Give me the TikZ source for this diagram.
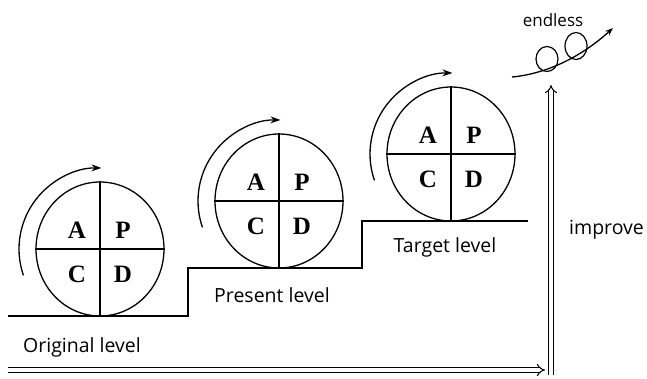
\documentclass[tikz,border=0pt]{standalone}
\usepackage{fontspec}
\setmainfont{Liberation Serif}
\newfontfamily\labelfont{Open Sans}
\usetikzlibrary{arrows.meta,shapes.geometric,calc}

\tikzset{
  pdca/.style={draw, ellipse, line width=1.3pt, minimum width=128pt, minimum height=134pt, inner sep=0pt},
  quad/.style={font=\bfseries\fontsize{25}{25}\selectfont, inner sep=0pt},
  cross/.style={line width=1.3pt},
  stair/.style={line width=1.8pt},
  turn/.style={line width=1.3pt, -{Stealth[length=10pt,width=7pt]}},
  lvl/.style={font=\labelfont\fontsize{19.5}{19.5}\selectfont, inner sep=0pt},
  bigarrow/.style={draw=black, line width=1pt, double=white, double distance=3.2pt, -{Implies[length=5pt]}},
}

\begin{document}
\begin{tikzpicture}[x=1pt,y=1pt]
\useasboundingbox (0,0) rectangle (647,-378);

% staircase of levels
\draw[stair] (8,-316) -- (188,-316) -- (188,-268) -- (362,-268) -- (362,-221) -- (528,-221);

% PDCA wheels
\foreach \n/\x/\y in {c1/100/-249, c2/279/-201, c3/451/-154} {
  \node[pdca] (\n) at (\x,\y) {};
  \draw[cross] (\n.north) -- (\n.south);
  \draw[cross] (\n.west) -- (\n.east);
  \node[quad] (\n A) at ($(\n.center)+(-23,19)$) {A};
  \node[quad] (\n P) at ($(\n.center)+(23,19)$) {P};
  \node[quad] (\n C) at ($(\n.center)+(-23,-25)$) {C};
  \node[quad] (\n D) at ($(\n.center)+(23,-25)$) {D};
  \draw[turn] ([shift={(199:81)}]\n.center) arc[start angle=199, end angle=89, radius=81];
}

% level labels
\node[lvl] (orig) at (82,-347) {Original level};
\node[lvl] (pres) at (272,-295) {Present level};
\node[lvl] (targ) at (445,-247) {Target level};
\node[lvl, anchor=west] (impr) at (569,-230) {improve};
\node[lvl, font=\labelfont\fontsize{17}{17}\selectfont] (endl) at (553,-20) {endless};

% rolling path
\coordinate (e0) at (512,-77);
\coordinate (e1) at (613,-28);
\draw[line width=1.3pt, -{Stealth[length=8pt,width=6pt]}] (e0) .. controls (545,-74) and (580,-58) .. (e1);
\draw[line width=1.2pt] (547,-59) ellipse[x radius=11, y radius=12.5];
\draw[line width=1.2pt] (576,-46) ellipse[x radius=11, y radius=13.5];

% time and improvement axes
\coordinate (h0) at (8,-370);
\coordinate (h1) at (545,-370);
\coordinate (v0) at (551,-375);
\coordinate (v1) at (551,-85);
\draw[bigarrow] (h0) -- (h1);
\draw[bigarrow] (v0) -- (v1);
\end{tikzpicture}
\end{document}
